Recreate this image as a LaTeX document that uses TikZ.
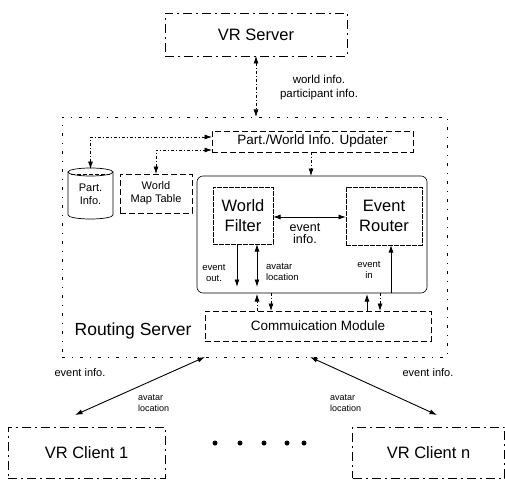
\documentclass[tikz,border=0pt]{standalone}
\usepackage{fontspec}
\setmainfont{Liberation Sans}
\usetikzlibrary{arrows.meta}
\begin{document}
\begin{tikzpicture}[x=1pt,y=-1pt,
  every node/.style={inner sep=0pt, outer sep=0pt},
  tip/.style={-{Latex[length=7.5pt,width=5pt]}},
  tips/.style={{Latex[length=7.5pt,width=5pt]}-{Latex[length=7.5pt,width=5pt]}},
  wire/.style={line width=0.9pt},
  dwire/.style={line width=0.7pt, dash pattern=on 3pt off 2pt on 1pt off 2pt},
  bigbox/.style={draw, line width=0.7pt, dash pattern=on 9pt off 4pt on 2pt off 4pt},
  modbox/.style={draw, line width=0.7pt, dash pattern=on 6pt off 3pt},
  unitbox/.style={draw, line width=0.6pt, dash pattern=on 5pt off 1pt},
  big/.style={font=\fontsize{16.5}{19.5}\selectfont},
  mid/.style={font=\fontsize{13.5}{15}\selectfont},
  small/.style={font=\fontsize{11}{13}\selectfont, align=center},
  tiny/.style={font=\fontsize{9.5}{11}\selectfont}
]
\useasboundingbox (0,0) rectangle (505,481);

% servers and outer frame
\node[bigbox, big, minimum width=182pt, minimum height=43pt] (vrs) at (256,34.5) {VR Server};
\node[draw, line width=0.6pt, dash pattern=on 3pt off 7pt on 1pt off 7pt,
      minimum width=385pt, minimum height=240pt] (outer) at (254.5,237) {};
\node[big, font=\fontsize{17.5}{20}\selectfont] (rslabel) at (133,331) {Routing Server};

% routing server internals
\node[modbox, mid, minimum width=201pt, minimum height=21pt] (upd) at (312.5,141.5) {Part./World Info. Updater};

% participant database drawn as a cylinder around its label
\node[small, minimum width=45pt, minimum height=52pt] (pinfo) at (90.5,194) {Part.\\Info.};
\draw[line width=0.7pt] (68,172) -- (68,215) arc[start angle=180, end angle=360, x radius=22.5pt, y radius=4pt]
      -- (113,172);
\draw[line width=0.7pt] (90.5,172) ellipse[x radius=22.5pt, y radius=4pt];
\draw[line width=0.5pt, dash pattern=on 4pt off 2pt] (71,174.5) -- (110,174.5);

\node[modbox, small, minimum width=72pt, minimum height=39pt] (wmt) at (156,193.5) {World\\Map Table};

\node[draw, line width=0.6pt, rounded corners=6pt, minimum width=230pt, minimum height=117pt] (inner) at (312,234.5) {};
\node[unitbox, big, align=center, minimum width=60pt, minimum height=57pt] (wf) at (243,215.5) {World\\Filter};
\node[unitbox, big, align=center, minimum width=76pt, minimum height=58pt] (er) at (384,216) {Event\\Router};

\node[modbox, mid, minimum width=226pt, minimum height=30pt] (comm) at (318,326) {Commuication Module};

% clients
\node[bigbox, big, minimum width=157pt, minimum height=51pt] (c1) at (86.5,452.5) {VR Client 1};
\node[bigbox, big, minimum width=152pt, minimum height=51pt] (cn) at (428.5,452.5) {VR Client n};
\foreach \i/\dx in {1/215,2/240,3/264,4/287,5/304}
  \fill (\dx,443) circle (2.5pt) node (dot\i) {};

% server link
\draw[dwire, tips] (vrs.south) -- (vrs.south |- outer.north);
\node[small, font=\fontsize{11.5}{14}\selectfont] (srvlbl) at (319,88) {world info.\\participant info.};

% updater links
\draw[dwire, tips] ([yshift=-1pt]pinfo.north) |- ([yshift=4.5pt]upd.west);
\draw[dwire, tips] (wmt.north) |- ([yshift=-8.5pt]upd.west);
\draw[dwire, tip] (upd.south -| 311,0) -- (311,176);

% filter / router
\draw[wire, tips] (wf.east |- 0,217) -- (er.west |- 0,217);
\node[small, font=\fontsize{12.5}{12}\selectfont] (evinfo) at (305,234) {event\\info.};

\coordinate (outend) at (237,287);
\draw[wire, tip] (wf.south -| outend) -- (outend);
\node[tiny, align=center] (evout) at (214,273) {event\\out.};

\coordinate (avend) at (257,287);
\draw[wire, tips] (wf.south -| avend) -- (avend);
\node[tiny, align=left, anchor=west] (avlbl) at (266,271.5) {avatar\\location};

\draw[wire, tip] (inner.south -| 391,0) -- (er.south -| 391,0);
\node[tiny, align=center] (evin) at (369,270) {event\\in};

% links to the communication module
\draw[dwire, tip] (comm.north -| 257,0) -- (257,294);
\draw[dwire, tip] (inner.south -| 271,0) -- (comm.north -| 271,0);
\draw[wire, tip] (comm.north -| 367,0) -- (367,294);
\draw[dwire, tip] (inner.south -| 380,0) -- (comm.north -| 380,0);

% client links
\coordinate (l1) at (205,357);
\coordinate (l2) at (75,415);
\coordinate (r1) at (310,357);
\coordinate (r2) at (437,415);
\draw[wire, tips] (l1) -- (l2);
\draw[wire, tips] (r1) -- (r2);
\node[tiny, font=\fontsize{11}{12}\selectfont] (ei1) at (80,373) {event info.};
\node[tiny, font=\fontsize{11}{12}\selectfont] (ein) at (428,373) {event info.};
\node[tiny, font=\fontsize{9}{11}\selectfont, align=left, anchor=west] (al1) at (138,403) {avatar\\location};
\node[tiny, font=\fontsize{9}{11}\selectfont, align=left, anchor=west] (aln) at (330,403) {avatar\\location};
\end{tikzpicture}
\end{document}
